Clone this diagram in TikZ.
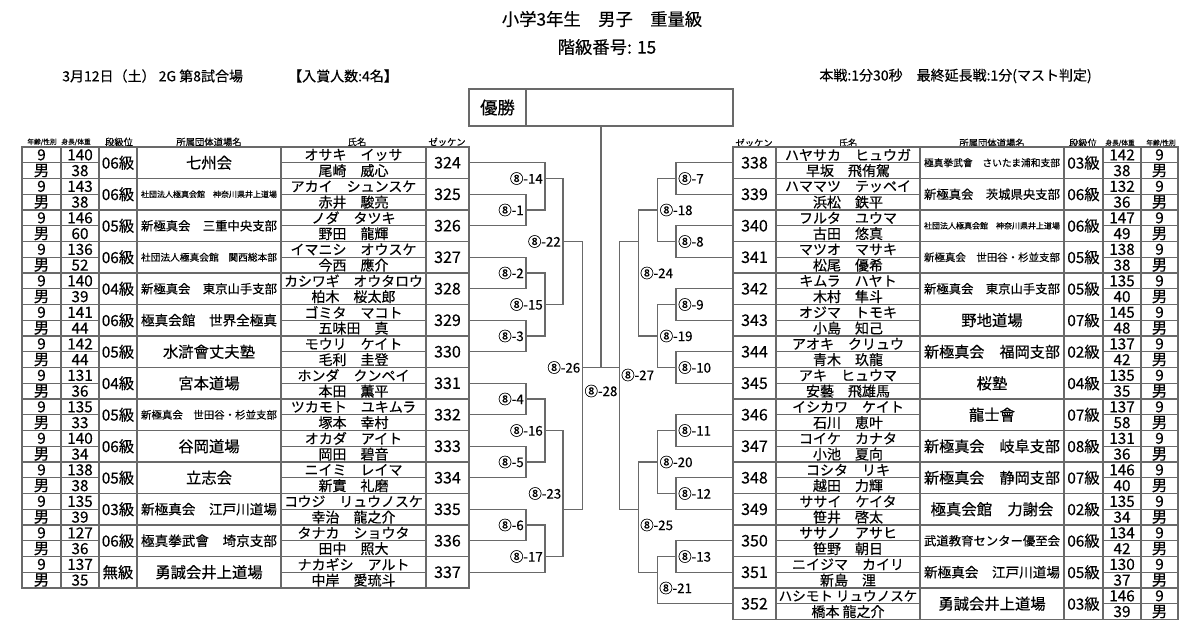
\documentclass[tikz,border=0pt]{standalone}
\usepackage{fontspec}
\setmainfont{Noto Sans CJK JP}[FakeBold=0.35]
\usepackage{graphicx}
\usepackage{tikz}
\usetikzlibrary{positioning}
\definecolor{rulegray}{RGB}{105,105,105}
\newcommand\numfont{\fontsize{11.5}{13}\selectfont}
\newcommand\zkfont{\fontsize{12}{14}\selectfont}
\newcommand\kyufont{\fontsize{11.5}{13}\selectfont}
\newcommand\namefont{\fontsize{10.5}{12}\selectfont}
\newcommand\dojofont{\fontsize{11.5}{13}\selectfont}
\newcommand\infofont{\fontsize{10.5}{12}\selectfont}
% shrink a text to a width when it is too wide
\newsavebox\fitsave
\newcommand\fitto[2]{\sbox\fitsave{#2}\ifdim\wd\fitsave>#1\relax\resizebox{#1}{!}{\usebox\fitsave}\else\usebox\fitsave\fi}

\begin{document}
\begin{tikzpicture}[x=0.75pt, y=-0.75pt, every node/.style={inner sep=0pt}]
\tikzstyle{cell}=[draw=rulegray, line width=1pt, inner sep=0pt]
\tikzstyle{half}=[cell, minimum height=11.8125pt]
\tikzstyle{full}=[cell, minimum height=23.625pt]
\tikzstyle{hd}=[font=\fontsize{7}{8}\selectfont]
\tikzstyle{hds}=[font=\fontsize{5}{6}\selectfont]
\tikzstyle{tag}=[font=\fontsize{10}{12}\selectfont]
\tikzstyle{brk}=[draw=rulegray, line width=1pt]
\useasboundingbox (0,0) rectangle (1200,629);

% heading
\node[font=\fontsize{13}{15}\selectfont] (title) at (602,19) {小学3年生　男子　重量級};
\node[font=\fontsize{13}{15}\selectfont] (classno) at (607,47) {階級番号: 15};
\node[anchor=west, font=\infofont] (date) at (62,76) {3月12日（土） 2G 第8試合場};
\node[font=\infofont] (prize) at (343,76) {【入賞人数:4名】};
\node[anchor=east, font=\infofont] (rules) at (1092,76) {本戦:1分30秒　最終延長戦:1分(マスト判定)};
\node[cell, minimum width=42.75pt, minimum height=27.75pt, font=\fontsize{13}{15}\selectfont] (yushol) at (497.5,107.5) {優勝};
\node[cell, minimum width=155.25pt, minimum height=27.75pt] (yushor) at (629.5,107.5) {};

% column heads
\node[hds] (lh1) at (42,142) {年齢/性別};
\node[hds] (lh2) at (76,142) {身長/体重};
\node[hd] (lh3) at (119,142) {段級位};
\node[hd] (lh4) at (209,142) {所属団体道場名};
\node[hd] (lh5) at (357,142) {氏名};
\node[hd] (lh6) at (447,142) {ゼッケン};
\node[hd] (rh1) at (754,143) {ゼッケン};
\node[hd] (rh2) at (848,143) {氏名};
\node[hd] (rh3) at (992,143) {所属団体道場名};
\node[hd] (rh4) at (1083,143) {段級位};
\node[hds] (rh5) at (1120,143) {身長/体重};
\node[hds] (rh6) at (1161,143) {年齢/性別};

% left entries
\foreach \i/\kana/\kanji/\dojo/\kyu/\hgt/\wgt in {
  0/オサキ　イッサ/尾崎　威心/七州会/06級/140/38,
  1/アカイ　シュンスケ/赤井　駿亮/社団法人極真会館　神奈川県井上道場/06級/143/38,
  2/ノダ　タツキ/野田　龍輝/新極真会　三重中央支部/05級/146/60,
  3/イマニシ　オウスケ/今西　應介/社団法人極真会館　関西総本部/06級/136/52,
  4/カシワギ　オウタロウ/柏木　桜太郎/新極真会　東京山手支部/04級/140/39,
  5/ゴミタ　マコト/五味田　真/極真会館　世界全極真/06級/141/44,
  6/モウリ　ケイト/毛利　圭登/水滸會丈夫塾/05級/142/44,
  7/ホンダ　クンペイ/本田　薫平/宮本道場/04級/131/36,
  8/ツカモト　ユキムラ/塚本　幸村/新極真会　世田谷・杉並支部/05級/135/33,
  9/オカダ　アイト/岡田　碧音/谷岡道場/06級/140/34,
  10/ニイミ　レイマ/新實　礼磨/立志会/05級/138/38,
  11/コウジ　リュウノスケ/幸治　龍之介/新極真会　江戸川道場/03級/135/39,
  12/タナカ　ショウタ/田中　照大/極真拳武會　埼京支部/06級/127/36,
  13/ナカギシ　アルト/中岸　愛琉斗/勇誠会井上道場/無級/137/35}{
  \pgfmathtruncatemacro\zk{324+\i}
  \pgfmathsetmacro\yc{162.75+31.5*\i}
  \node[half, minimum width=29.25pt, font=\numfont] (age\zk) at (41.5,\yc-7.875) {9};
  \node[half, minimum width=29.25pt, font=\numfont] (sex\zk) at (41.5,\yc+7.875) {男};
  \node[half, minimum width=28.5pt, font=\numfont] (hgt\zk) at (80,\yc-7.875) {\hgt};
  \node[half, minimum width=28.5pt, font=\numfont] (wgt\zk) at (80,\yc+7.875) {\wgt};
  \node[full, minimum width=28.5pt, font=\kyufont] (kyu\zk) at (118,\yc) {\kyu};
  \node[full, minimum width=108pt, font=\dojofont] (dojo\zk) at (209,\yc) {\fitto{102pt}{\dojo}};
  \node[half, minimum width=108.75pt, font=\namefont] (kana\zk) at (353.5,\yc-7.875) {\fitto{104pt}{\kana}};
  \node[half, minimum width=108.75pt, font=\namefont] (kanji\zk) at (353.5,\yc+7.875) {\fitto{104pt}{\kanji}};
  \node[full, minimum width=32.25pt, font=\zkfont] (z\zk) at (447.5,\yc) {\zk};
}

% right entries
\foreach \i/\kana/\kanji/\dojo/\kyu/\hgt/\wgt in {
  0/ハヤサカ　ヒュウガ/早坂　飛侑駕/極真拳武會　さいたま浦和支部/03級/142/38,
  1/ハママツ　テッペイ/浜松　鉄平/新極真会　茨城県央支部/06級/132/36,
  2/フルタ　ユウマ/古田　悠真/社団法人極真会館　神奈川県井上道場/06級/147/49,
  3/マツオ　マサキ/松尾　優希/新極真会　世田谷・杉並支部/05級/138/38,
  4/キムラ　ハヤト/木村　隼斗/新極真会　東京山手支部/05級/135/40,
  5/オジマ　トモキ/小島　知己/野地道場/07級/145/48,
  6/アオキ　クリュウ/青木　玖龍/新極真会　福岡支部/02級/137/42,
  7/アキ　ヒュウマ/安藝　飛雄馬/桜塾/04級/135/35,
  8/イシカワ　ケイト/石川　恵叶/龍士會/07級/137/58,
  9/コイケ　カナタ/小池　夏向/新極真会　岐阜支部/08級/131/36,
  10/コシタ　リキ/越田　力輝/新極真会　静岡支部/07級/146/40,
  11/ササイ　ケイタ/笹井　啓太/極真会館　力謝会/02級/135/34,
  12/ササノ　アサヒ/笹野　朝日/武道教育センター優至会/06級/134/42,
  13/ニイジマ　カイリ/新島　浬/新極真会　江戸川道場/05級/130/37,
  14/ハシモト リュウノスケ/橋本 龍之介/勇誠会井上道場/03級/146/39}{
  \pgfmathtruncatemacro\zk{338+\i}
  \pgfmathsetmacro\yc{162.75+31.5*\i}
  \node[full, minimum width=32.25pt, font=\zkfont] (z\zk) at (754.5,\yc) {\zk};
  \node[half, minimum width=108pt, font=\namefont] (kana\zk) at (848,\yc-7.875) {\fitto{104pt}{\kana}};
  \node[half, minimum width=108pt, font=\namefont] (kanji\zk) at (848,\yc+7.875) {\fitto{104pt}{\kanji}};
  \node[full, minimum width=108pt, font=\dojofont] (dojo\zk) at (992,\yc) {\fitto{102pt}{\dojo}};
  \node[full, minimum width=29.25pt, font=\kyufont] (kyu\zk) at (1083.5,\yc) {\kyu};
  \node[half, minimum width=28.5pt, font=\numfont] (hgt\zk) at (1122,\yc-7.875) {\hgt};
  \node[half, minimum width=28.5pt, font=\numfont] (wgt\zk) at (1122,\yc+7.875) {\wgt};
  \node[half, minimum width=27.75pt, font=\numfont] (age\zk) at (1159.5,\yc-7.875) {9};
  \node[half, minimum width=27.75pt, font=\numfont] (sex\zk) at (1159.5,\yc+7.875) {男};
}

% match points: vertical line x, winner line y
\coordinate (m1) at (526,210);    \coordinate (m2) at (526,273);
\coordinate (m3) at (526,336);    \coordinate (m4) at (526,399);
\coordinate (m5) at (526,462);    \coordinate (m6) at (526,525);
\coordinate (m7) at (676,178.5);  \coordinate (m8) at (676,241.5);
\coordinate (m9) at (676,304.5);  \coordinate (m10) at (676,367.5);
\coordinate (m11) at (676,430.5); \coordinate (m12) at (676,493.5);
\coordinate (m13) at (676,556.5);
\coordinate (m14) at (545,178.5); \coordinate (m15) at (545,304.5);
\coordinate (m16) at (545,430.5); \coordinate (m17) at (545,556.5);
\coordinate (m18) at (657.5,210); \coordinate (m19) at (657.5,336);
\coordinate (m20) at (657.5,462); \coordinate (m21) at (657.5,572.25);
\coordinate (m22) at (563,241.5); \coordinate (m23) at (563,509.25);
\coordinate (m24) at (638.5,241.5); \coordinate (m25) at (638.5,509.25);
\coordinate (m26) at (582.5,367.5); \coordinate (m27) at (619.5,367.5);
\coordinate (m28) at (601,367.5);

% bracket lines
\foreach \a/\m/\b in {z325.east/m1/z326.east, z327.east/m2/z328.east, z329.east/m3/z330.east,
  z331.east/m4/z332.east, z333.east/m5/z334.east, z335.east/m6/z336.east,
  z324.east/m14/m1, m2/m15/m3, m4/m16/m5, m6/m17/z337.east,
  m14/m22/m15, m16/m23/m17, m22/m26/m23,
  z338.west/m7/z339.west, z340.west/m8/z341.west, z342.west/m9/z343.west,
  z344.west/m10/z345.west, z346.west/m11/z347.west, z348.west/m12/z349.west,
  z350.west/m13/z351.west,
  m7/m18/m8, m9/m19/m10, m11/m20/m12, m13/m21/z352.west,
  m18/m24/m19, m20/m25/m21, m24/m27/m25}
  \draw[brk] (\a) -| (\m) |- (\b);
\draw[brk] (m26) -- (m27);
\draw[brk] (yushor.south -| m28) -- (m28);

% match numbers
\foreach \m in {1,2,3,4,5,6,14,15,16,17,22,26}
  \node[tag, left=1.5pt of m\m] (l\m) {⑧-\m};
\foreach \m in {7,8,9,10,11,12,13,18,19,20}
  \node[tag, right=1.5pt of m\m] (l\m) {⑧-\m};
\node[tag, anchor=east] (l23) at (561.5,493.5) {⑧-23};
\node[tag, anchor=west] (l21) at (659,588) {⑧-21};
\node[tag, anchor=west] (l24) at (640,273) {⑧-24};
\node[tag, anchor=west] (l25) at (640,525) {⑧-25};
\node[tag, anchor=west] (l27) at (621,375) {⑧-27};
\node[tag] (l28) at (601,391) {⑧-28};
\end{tikzpicture}
\end{document}
